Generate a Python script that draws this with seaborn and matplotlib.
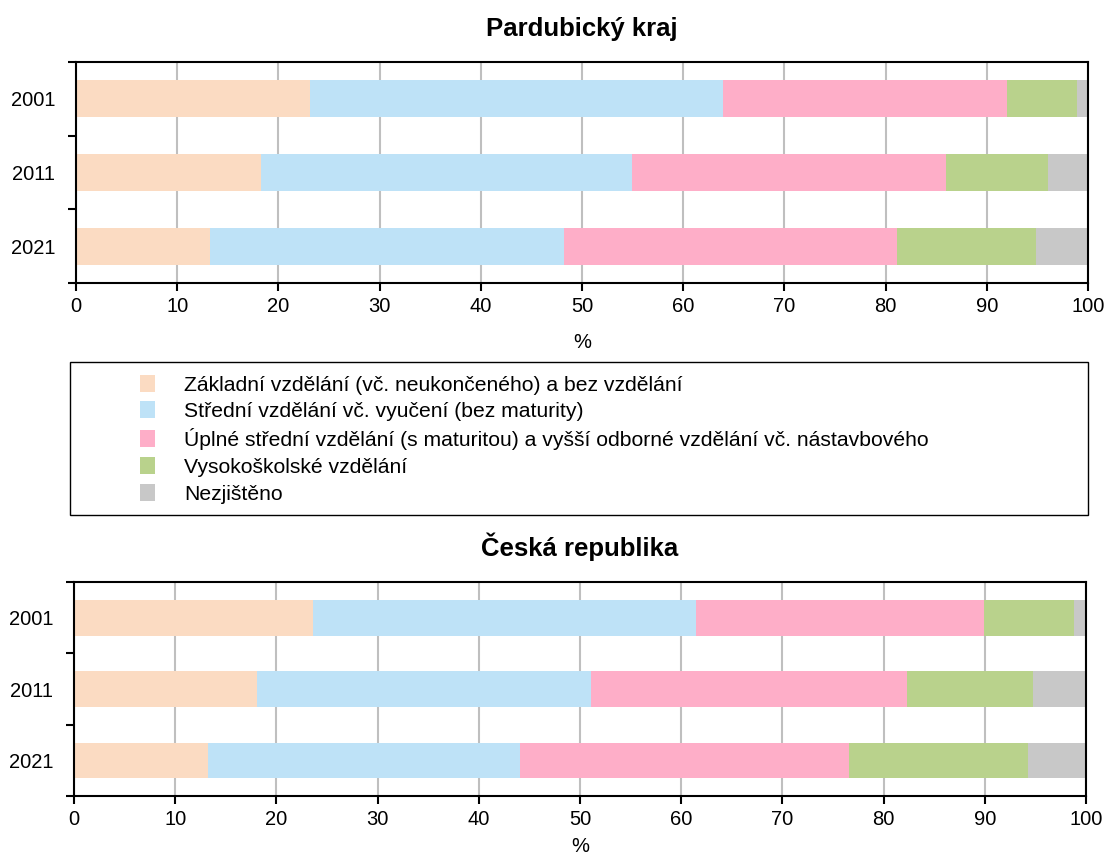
import pandas as pd
import matplotlib.pyplot as plt
import matplotlib.patches as mpatches
import seaborn as sns

years = ['2001', '2011', '2021']
categories = [
    'Základní vzdělání (vč. neukončeného) a bez vzdělání',
    'Střední vzdělání vč. vyučení (bez maturity)',
    'Úplné střední vzdělání (s maturitou) a vyšší odborné vzdělání vč. nástavbového',
    'Vysokoškolské vzdělání',
    'Nezjištěno',
]
colors = ['#FBDBC2', '#BEE2F7', '#FEAEC8', '#B9D28C', '#C8C8C8']

# shares in % per year (2001, 2011, 2021)
pardubice_zakladni = [23.1, 18.3, 13.2]
pardubice_stredni = [40.8, 36.6, 35.0]
pardubice_uplne = [28.1, 31.1, 32.9]
pardubice_vs = [6.9, 10.0, 13.8]
pardubice_nezj = [1.1, 4.0, 5.1]

cr_zakladni = [23.6, 18.1, 13.2]
cr_stredni = [37.9, 33.0, 30.9]
cr_uplne = [28.4, 31.2, 32.5]
cr_vs = [8.9, 12.5, 17.7]
cr_nezj = [1.2, 5.2, 5.7]

sns.set_theme(style='white')
plt.rcParams['font.family'] = ['Liberation Sans', 'DejaVu Sans']
plt.rcParams['text.color'] = 'black'
plt.rcParams['xtick.color'] = 'black'
plt.rcParams['ytick.color'] = 'black'
plt.rcParams['axes.labelcolor'] = 'black'


def stacked(ax, series, title, xlabelpad):
    df = pd.DataFrame({'year': years})
    for cat, vals in zip(categories, series):
        df[cat] = vals
    cum = df[categories].cumsum(axis=1)
    # draw cumulative totals from largest to smallest so they overlap as a stack
    for cat, col in reversed(list(zip(categories, colors))):
        sns.barplot(x=cum[cat], y=df['year'], order=years, orient='h',
                    color=col, width=0.5, saturation=1, linewidth=0,
                    ax=ax, zorder=2)
    ax.set_xlim(0, 100)
    ax.set_ylim(2.5, -0.5)
    ax.set_xticks(range(0, 101, 10))
    ax.set_yticks([-0.5, 0.5, 1.5, 2.5], minor=True)
    ax.tick_params(axis='y', which='major', length=0, labelsize=14.5, pad=15)
    ax.tick_params(axis='y', which='minor', length=6, width=1.5, color='black',
                   direction='out', left=True)
    ax.tick_params(axis='x', length=6, width=1.5, color='black', direction='out',
                   bottom=True, labelsize=14.5, pad=4)
    ax.grid(axis='x', color='#BFBFBF', linewidth=1.5)
    ax.set_axisbelow(True)
    for s in ax.spines.values():
        s.set_color('black')
        s.set_linewidth(1.5)
    ax.set_xlabel('%', fontsize=14.5, labelpad=xlabelpad)
    ax.set_ylabel('')
    ax.set_title(title, fontsize=18.5, fontweight='bold', pad=19)


fig = plt.figure(figsize=(11.08, 8.55), dpi=100)
ax1 = fig.add_axes([0.0686, 0.669, 0.9134, 0.2585])
ax2 = fig.add_axes([0.0668, 0.069, 0.9134, 0.2503])

stacked(ax1, [pardubice_zakladni, pardubice_stredni, pardubice_uplne,
              pardubice_vs, pardubice_nezj], 'Pardubický kraj', 12)
stacked(ax2, [cr_zakladni, cr_stredni, cr_uplne, cr_vs, cr_nezj],
        'Česká republika', 6)

# legend box between the two charts
fig.patches.append(mpatches.Rectangle((0.0632, 0.3977), 0.9188, 0.179,
                                      transform=fig.transFigure, fill=False,
                                      edgecolor='black', linewidth=1))
handles = [mpatches.Patch(facecolor=c, edgecolor='none') for c in colors]
fig.legend(handles, categories, loc='upper left',
           bbox_to_anchor=(0.117, 0.574), frameon=False, fontsize=15.2,
           handlelength=0.71, handleheight=0.85, handletextpad=1.37,
           labelspacing=0.33, borderpad=0)

fig.savefig('out.png', dpi=100)
